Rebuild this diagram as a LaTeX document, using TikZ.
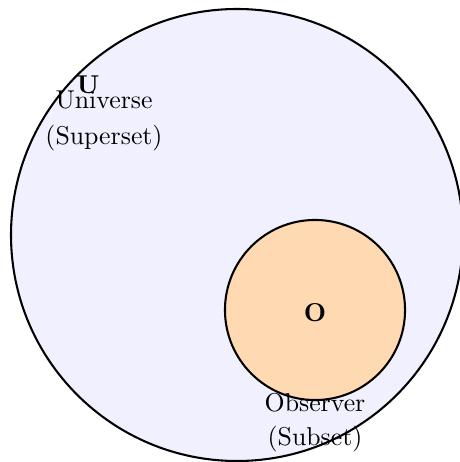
\documentclass[tikz,border=0pt]{standalone}
\begin{document}
\begin{tikzpicture}[x=0.3876pt,y=-0.3876pt,
  setcircle/.style={circle, draw=black, line width=0.8pt, inner sep=0pt},
  caption/.style={align=center, inner sep=0pt, font=\normalsize}]
\useasboundingbox (0,0) rectangle (459,462);
\node[setcircle, fill=blue!6, minimum size=175.2pt] (universe) at (237,235) {};
\node[setcircle, fill=orange!30, minimum size=69.8pt] (observer) at (315,310) {};
\node[font=\bfseries, inner sep=0pt] (olabel) at (315,313) {O};
\node[font=\bfseries, inner sep=0pt] (ulabel) at (88,85) {U};
\node[caption] (utext) at (104,121) {Universe\\[2pt](Superset)};
\node[caption] (otext) at (315,422.5) {Observer\\[1pt](Subset)};
\end{tikzpicture}
\end{document}
